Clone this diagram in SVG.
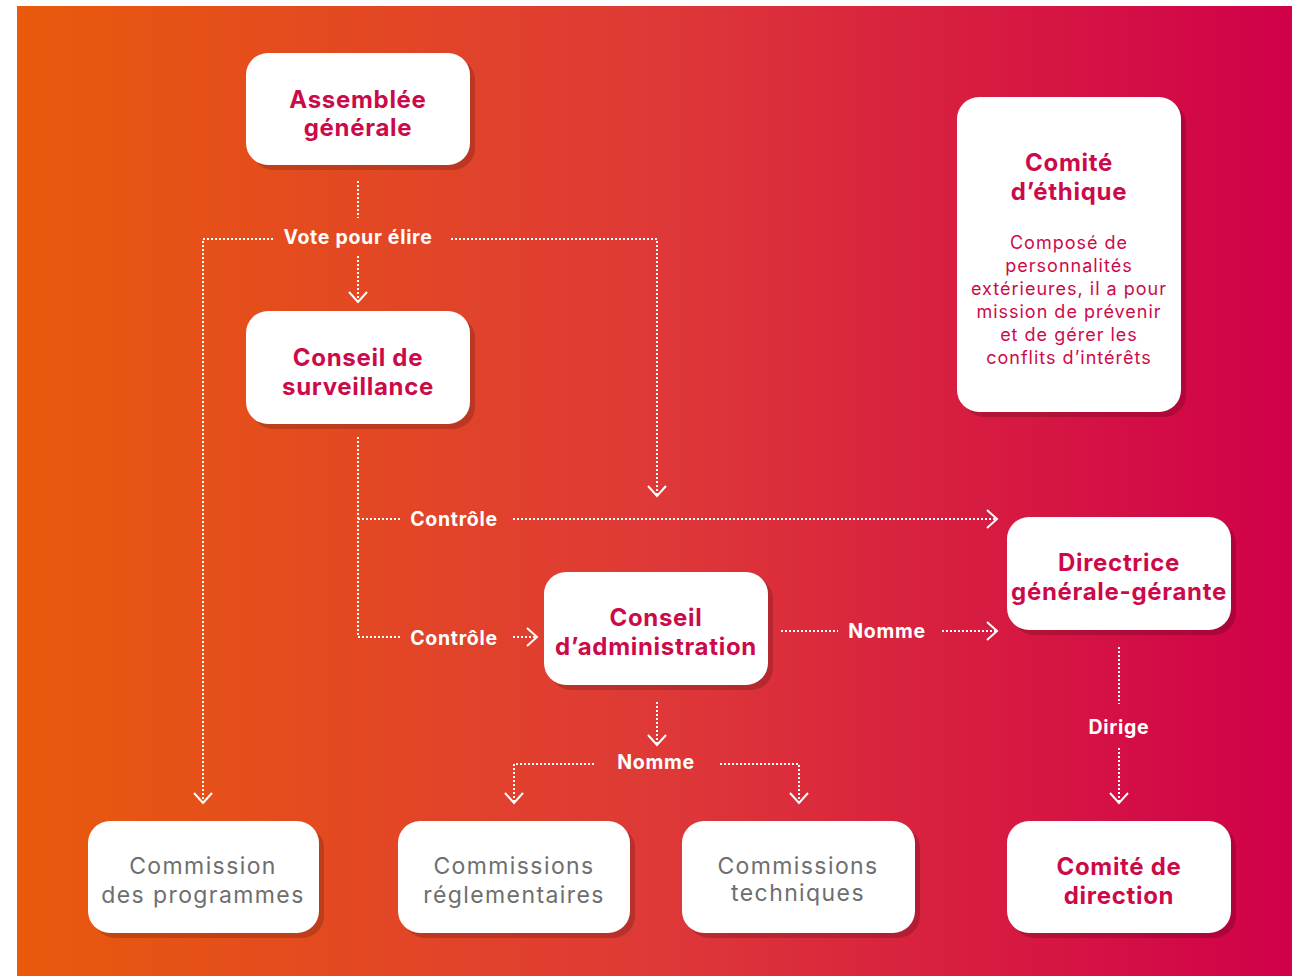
<svg xmlns="http://www.w3.org/2000/svg" width="1292" height="976" viewBox="0 0 1292 976">
<defs>
<linearGradient id="bg" x1="0" y1="0" x2="1" y2="0">
<stop offset="0" stop-color="#E95A0C"/>
<stop offset="0.5" stop-color="#DE3937"/>
<stop offset="1" stop-color="#D0004A"/>
</linearGradient>
<marker id="arr" viewBox="-12 -11 14 22" markerWidth="14" markerHeight="22" refX="0" refY="0" orient="auto" markerUnits="userSpaceOnUse">
<path d="M-10,-9 L0,0 L-10,9" fill="none" stroke="#fff" stroke-width="2"/>
</marker>
</defs>
<style>
.box{fill:#fff}
.sh{fill:#000;fill-opacity:0.17}
.t{font-family:Inter,"Noto Sans",sans-serif;font-weight:700;font-size:24px;letter-spacing:0.7px;fill:#CC0A4A;text-anchor:middle;dominant-baseline:central}
.g{font-family:Inter,"Noto Sans",sans-serif;font-weight:400;font-size:23px;letter-spacing:1.4px;fill:#6E6E6E;text-anchor:middle;dominant-baseline:central}
.b{font-family:Inter,"Noto Sans",sans-serif;font-weight:400;font-size:18px;letter-spacing:1px;fill:#CC0A4A;text-anchor:middle;dominant-baseline:central}
.l{font-family:Inter,"Noto Sans",sans-serif;font-weight:700;font-size:19.5px;letter-spacing:0.7px;fill:#fff;text-anchor:middle;dominant-baseline:central}
.c{fill:none;stroke:#fff;stroke-width:2;stroke-dasharray:2 2}
.a{marker-end:url(#arr)}
</style>
<rect x="0" y="0" width="1292" height="976" fill="#fff"/>
<rect x="17" y="6" width="1275" height="970" fill="url(#bg)"/>

<g id="connectors">
<path class="c" d="M358,181 V218"/>
<path class="c a" d="M358,256 V302"/>
<path class="c a" d="M273,239 H203 V803"/>
<path class="c a" d="M451,239 H657 V496"/>
<path class="c" d="M358,437 V637 H400"/>
<path class="c" d="M358,519 H400"/>
<path class="c a" d="M513,519 H997"/>
<path class="c a" d="M513,637 H537"/>
<path class="c" d="M781,631 H838"/>
<path class="c a" d="M942,631 H997"/>
<path class="c a" d="M657,702 V745"/>
<path class="c a" d="M594,764 H514 V803"/>
<path class="c a" d="M720,764 H799 V803"/>
<path class="c" d="M1119,647 V704"/>
<path class="c a" d="M1119,748 V803"/>
<text class="l" x="358" y="237">Vote pour élire</text>
<text class="l" x="454" y="519">Contrôle</text>
<text class="l" x="454" y="638">Contrôle</text>
<text class="l" x="887" y="631">Nomme</text>
<text class="l" x="656" y="762">Nomme</text>
<text class="l" x="1119" y="727">Dirige</text>
</g>

<g id="assemblee">
<rect class="sh" x="251" y="58" width="224" height="112" rx="22"/>
<rect class="box" x="246" y="53" width="224" height="112" rx="22"/>
<text class="t" x="358" y="99">Assemblée</text>
<text class="t" x="358" y="127">générale</text>
</g>

<g id="surveillance">
<rect class="sh" x="251" y="316" width="224" height="113" rx="22"/>
<rect class="box" x="246" y="311" width="224" height="113" rx="22"/>
<text class="t" x="358" y="357">Conseil de</text>
<text class="t" x="358" y="386">surveillance</text>
</g>

<g id="ethique">
<rect class="sh" x="962" y="102" width="224" height="315" rx="22"/>
<rect class="box" x="957" y="97" width="224" height="315" rx="22"/>
<text class="t" x="1069" y="162">Comité</text>
<text class="t" x="1069" y="191">d’éthique</text>
<text class="b" x="1069" y="242">Composé de</text>
<text class="b" x="1069" y="265">personnalités</text>
<text class="b" x="1069" y="288">extérieures, il a pour</text>
<text class="b" x="1069" y="311">mission de prévenir</text>
<text class="b" x="1069" y="334">et de gérer les</text>
<text class="b" x="1069" y="357">conflits d’intérêts</text>
</g>

<g id="directrice">
<rect class="sh" x="1012" y="522" width="224" height="113" rx="22"/>
<rect class="box" x="1007" y="517" width="224" height="113" rx="22"/>
<text class="t" x="1119" y="562">Directrice</text>
<text class="t" x="1119" y="591">générale-gérante</text>
</g>

<g id="administration">
<rect class="sh" x="549" y="577" width="224" height="113" rx="22"/>
<rect class="box" x="544" y="572" width="224" height="113" rx="22"/>
<text class="t" x="656" y="617">Conseil</text>
<text class="t" x="656" y="646">d’administration</text>
</g>

<g id="programmes">
<rect class="sh" x="93" y="826" width="231" height="112" rx="22"/>
<rect class="box" x="88" y="821" width="231" height="112" rx="22"/>
<text class="g" x="203" y="866">Commission</text>
<text class="g" x="203" y="895">des programmes</text>
</g>

<g id="reglementaires">
<rect class="sh" x="403" y="826" width="232" height="112" rx="22"/>
<rect class="box" x="398" y="821" width="232" height="112" rx="22"/>
<text class="g" x="514" y="866">Commissions</text>
<text class="g" x="514" y="895">réglementaires</text>
</g>

<g id="techniques">
<rect class="sh" x="687" y="826" width="233" height="112" rx="22"/>
<rect class="box" x="682" y="821" width="233" height="112" rx="22"/>
<text class="g" x="798" y="866">Commissions</text>
<text class="g" x="798" y="893">techniques</text>
</g>

<g id="direction">
<rect class="sh" x="1012" y="826" width="224" height="112" rx="22"/>
<rect class="box" x="1007" y="821" width="224" height="112" rx="22"/>
<text class="t" x="1119" y="866">Comité de</text>
<text class="t" x="1119" y="895">direction</text>
</g>
</svg>
